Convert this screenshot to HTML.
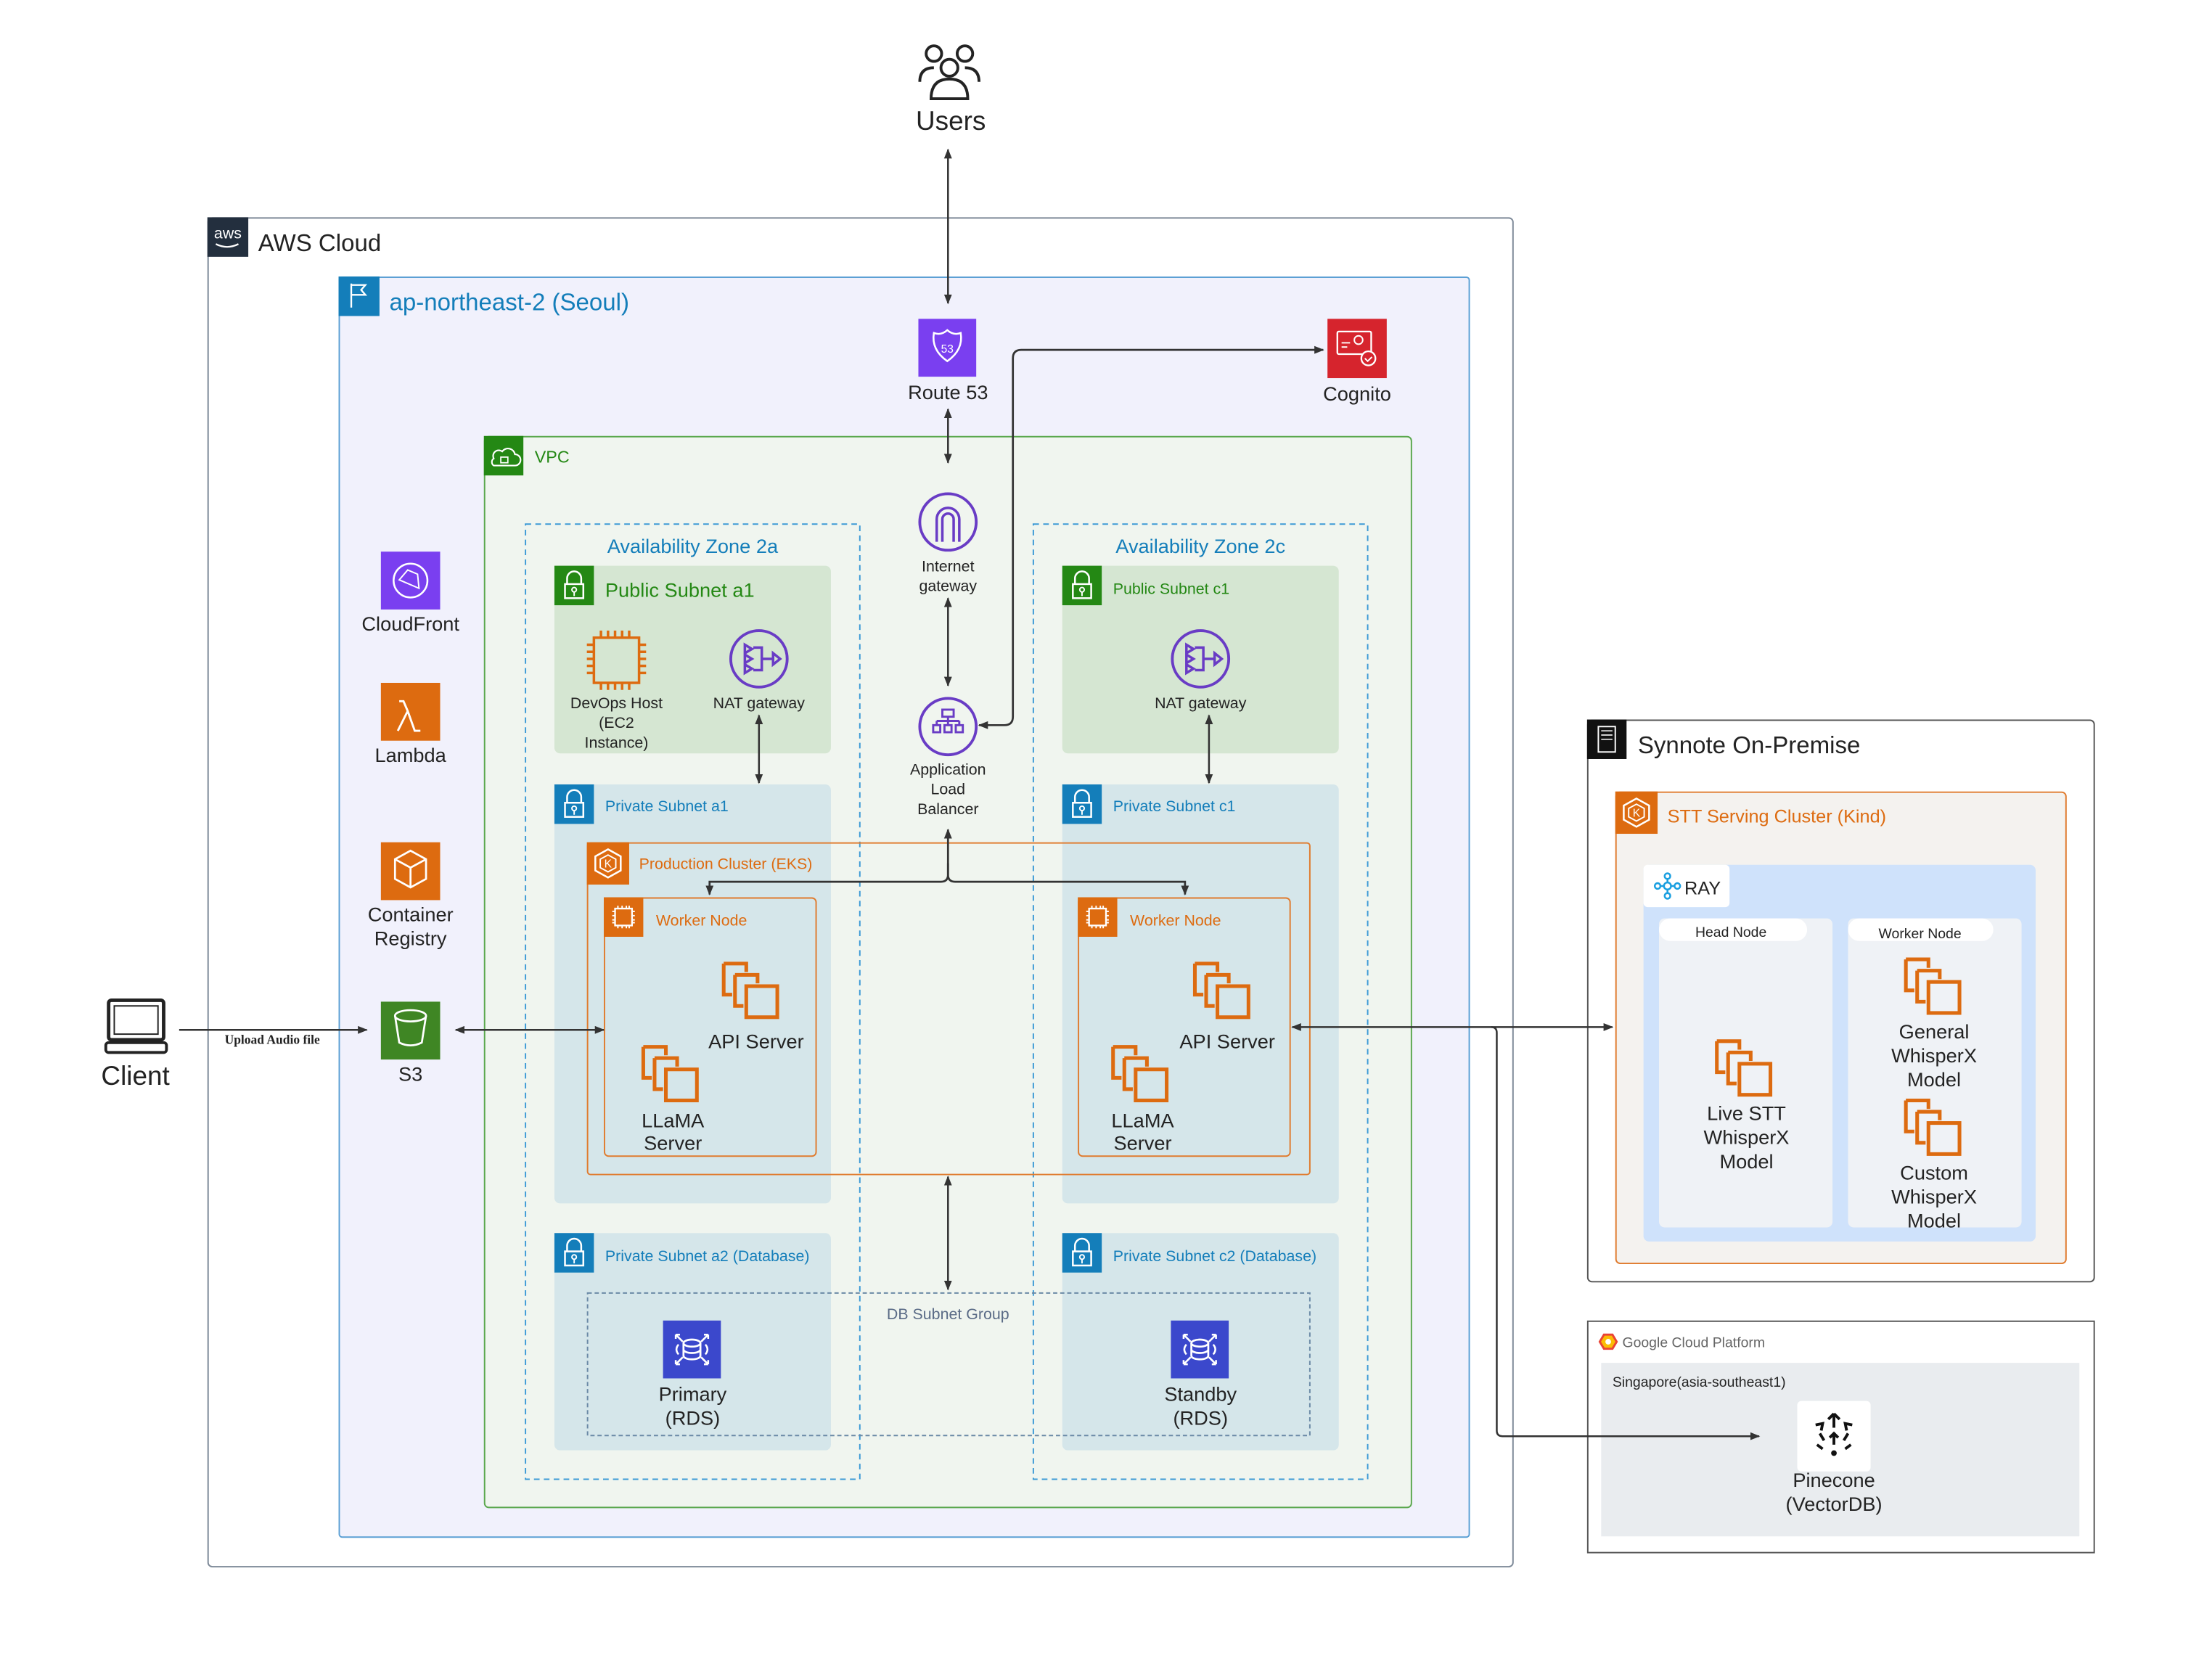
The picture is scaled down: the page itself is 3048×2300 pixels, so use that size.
<!DOCTYPE html>
<html><head><meta charset="utf-8"><style>
html,body{margin:0;padding:0;background:#fff}
svg{display:block}
text{font-family:"Liberation Sans",Arial,sans-serif;fill:#232323}
</style></head><body>
<svg width="3048" height="2300" viewBox="0 0 1568 1183" preserveAspectRatio="none" xmlns="http://www.w3.org/2000/svg">
<defs>
<marker id="ah" viewBox="0 0 10 10" refX="9" refY="5" markerWidth="7" markerHeight="7" orient="auto-start-reverse" markerUnits="userSpaceOnUse"><path d="M0,1 L10,5 L0,9 z" fill="#333"/></marker>
<g id="multi" fill="none" stroke="#dd6b10" stroke-width="2.6">
<path d="M0,0 h16 v6 M0,0 v22 h6"/><path d="M8,8 h16 v6 M8,8 v22 h6"/><rect x="16" y="16" width="22" height="22"/>
</g>
<g id="lock"><rect width="28" height="28" fill="currentColor"/><path d="M9,13 v-4 a5,5 0 0 1 10,0 v4" fill="none" stroke="#fff" stroke-width="1.3"/><rect x="7.5" y="13" width="13" height="10" fill="none" stroke="#fff" stroke-width="1.3"/><circle cx="14" cy="17" r="1.6" fill="none" stroke="#fff"/><path d="M14,18.5 v3" stroke="#fff"/></g>
<g id="nat"><circle r="20" fill="none" stroke="#693cc5" stroke-width="2"/><path d="M-10,-10 l5,3 l-5,3 z M-10,-3 l5,3 l-5,3z M-10,4 l5,3 l-5,3z M-4,-8 h6 v16 h-6 M2,0 h8 M10,-4 l5,4 l-5,4 z" fill="none" stroke="#693cc5" stroke-width="1.8"/></g>
<g id="chip"><rect width="28" height="28" fill="#dd6b10"/><rect x="8" y="8" width="12" height="12" fill="none" stroke="#fff" stroke-width="1.2"/><path d="M10,6v2M13,6v2M16,6v2M18,6v2M10,20v2M13,20v2M16,20v2M18,20v2M6,10h2M6,13h2M6,16h2M6,18h2M20,10h2M20,13h2M20,16h2M20,18h2" stroke="#fff"/></g>
<g id="k8s"><rect width="30" height="30" fill="#dd6b10"/><path d="M15,5 l9,5 v10 l-9,5 l-9,-5 v-10 z" fill="none" stroke="#fff" stroke-width="1.3"/><path d="M15,9 l5.5,3 v6 l-5.5,3 l-5.5,-3 v-6 z" fill="none" stroke="#fff"/><text x="15" y="18" font-size="8" text-anchor="middle" style="fill:#fff">K</text></g>
<g id="rds"><rect width="41" height="41" fill="#3b48cc"/><ellipse cx="20.5" cy="16" rx="6" ry="2.5" fill="none" stroke="#fff" stroke-width="1.4"/><path d="M14.5,16 v9 a6,2.5 0 0 0 12,0 v-9 M14.5,20.5 a6,2.5 0 0 0 12,0" fill="none" stroke="#fff" stroke-width="1.4"/><path d="M9,10 l5,5 M9,10 h3 M9,10 v3 M32,10 l-5,5 M32,10 h-3 M32,10 v3 M9,31 l5,-5 M9,31 h3 M9,31 v-3 M32,31 l-5,-5 M32,31 h-3 M32,31 v-3 M11,17 q-3,3.5 0,7 M30,17 q3,3.5 0,7" fill="none" stroke="#fff" stroke-width="1.3"/></g>
</defs>

<!-- Users -->
<g fill="none" stroke="#232323" stroke-width="2">
<circle cx="662" cy="38" r="5.5"/><circle cx="684" cy="38" r="5.5"/><circle cx="673" cy="48" r="6"/>
<path d="M652,58 q0,-10 10,-10 M694,58 q0,-10 -10,-10 M660,70 q0,-14 13,-14 q13,0 13,14 z"/>
</g>
<text x="674" y="92" font-size="19" text-anchor="middle">Users</text>

<!-- AWS Cloud -->
<rect x="147.5" y="154.5" width="925" height="956" rx="3" fill="#fff" stroke="#7d8998" stroke-width="1"/>
<rect x="147" y="154" width="29" height="28" fill="#232f3e"/>
<text x="161.5" y="169" font-size="11" text-anchor="middle" style="fill:#fff">aws</text>
<path d="M153,173 q8,4 16,0" fill="none" stroke="#fff" stroke-width="1.2"/>
<text x="183" y="178" font-size="17">AWS Cloud</text>

<!-- Region -->
<rect x="240.5" y="196.5" width="801" height="893" rx="2" fill="#f1f1fc" stroke="#5a9fd4" stroke-width="1"/>
<rect x="240" y="196" width="29" height="28" fill="#147eba"/>
<path d="M249,218 v-17 M249,202 h10 l-3,3.5 l3,3.5 h-10" fill="none" stroke="#fff" stroke-width="1.2"/>
<text x="276" y="220" font-size="17" style="fill:#147eba">ap-northeast-2 (Seoul)</text>

<!-- Route53 -->
<rect x="651" y="226" width="41" height="41" fill="#7a3ff0"/>
<path d="M662,236 q5,2 9.5,-2 q4.5,4 9.5,2 q2,12 -9.5,20 q-11.5,-8 -9.5,-20z" fill="none" stroke="#fff" stroke-width="1.3"/>
<text x="671.5" y="250" font-size="8" text-anchor="middle" style="fill:#fff">53</text>
<text x="672" y="283" font-size="14" text-anchor="middle">Route 53</text>

<!-- Cognito -->
<rect x="941" y="226" width="42" height="42" fill="#d6242d"/>
<rect x="948" y="235" width="24" height="16" rx="1" fill="none" stroke="#fff" stroke-width="1.2"/>
<path d="M951,243 h6 M951,246 h4" stroke="#fff"/>
<circle cx="963" cy="241" r="3" fill="none" stroke="#fff"/>
<circle cx="970" cy="254" r="5" fill="#d6242d" stroke="#fff" stroke-width="1.2"/>
<path d="M967.5,254 l2,2 l3,-3" fill="none" stroke="#fff"/>
<text x="962" y="284" font-size="14" text-anchor="middle">Cognito</text>

<!-- VPC -->
<rect x="343.5" y="309.5" width="657" height="759" rx="3" fill="#f0f5ef" stroke="#5aa74d" stroke-width="1"/>
<rect x="343" y="309" width="28" height="28" fill="#248814"/>
<path d="M350,330 h15 a4,4 0 0 0 0,-8 a5,5 0 0 0 -9,-2 a4,4 0 0 0 -6,5 a3,3 0 0 0 0,5z" fill="none" stroke="#fff" stroke-width="1.1"/>
<rect x="355" y="324" width="5" height="4" fill="none" stroke="#fff" stroke-width="0.9"/>
<text x="379" y="328" font-size="12" style="fill:#248814">VPC</text>

<!-- AZ boxes -->
<rect x="372.5" y="371.5" width="237" height="677" fill="none" stroke="#3c9ad6" stroke-width="1" stroke-dasharray="4,3"/>
<rect x="732.5" y="371.5" width="237" height="677" fill="none" stroke="#3c9ad6" stroke-width="1" stroke-dasharray="4,3"/>
<text x="491" y="392" font-size="14" text-anchor="middle" style="fill:#147eba">Availability Zone 2a</text>
<text x="851" y="392" font-size="14" text-anchor="middle" style="fill:#147eba">Availability Zone 2c</text>

<!-- Public subnets -->
<rect x="393" y="401" width="196" height="133" rx="4" fill="#d5e6d2"/>
<use href="#lock" x="393" y="401" style="color:#248814"/>
<text x="429" y="423" font-size="14" style="fill:#248814">Public Subnet a1</text>
<rect x="753" y="401" width="196" height="133" rx="4" fill="#d5e6d2"/>
<use href="#lock" x="753" y="401" style="color:#248814"/>
<text x="789" y="421" font-size="11" style="fill:#248814">Public Subnet c1</text>

<!-- EC2 devops -->
<g fill="none" stroke="#dd6b10" stroke-width="1.8">
<rect x="421" y="452" width="32" height="32"/>
<path d="M426,447v5M431,447v5M436,447v5M441,447v5M446,447v5M426,484v5M431,484v5M436,484v5M441,484v5M446,484v5M416,457h5M416,462h5M416,467h5M416,472h5M416,477h5M453,457h5M453,462h5M453,467h5M453,472h5M453,477h5"/>
</g>
<text x="437" y="502" font-size="11" text-anchor="middle">DevOps Host</text>
<text x="437" y="516" font-size="11" text-anchor="middle">(EC2</text>
<text x="437" y="530" font-size="11" text-anchor="middle">Instance)</text>
<use href="#nat" x="538" y="467"/>
<text x="538" y="502" font-size="11" text-anchor="middle">NAT gateway</text>
<use href="#nat" x="851" y="467"/>
<text x="851" y="502" font-size="11" text-anchor="middle">NAT gateway</text>

<!-- Private subnets -->
<rect x="393" y="556" width="196" height="297" rx="4" fill="#d5e6ea"/>
<use href="#lock" x="393" y="556" style="color:#147eba"/>
<text x="429" y="575" font-size="11" style="fill:#147eba">Private Subnet a1</text>
<rect x="753" y="556" width="196" height="297" rx="4" fill="#d5e6ea"/>
<use href="#lock" x="753" y="556" style="color:#147eba"/>
<text x="789" y="575" font-size="11" style="fill:#147eba">Private Subnet c1</text>
<rect x="393" y="874" width="196" height="154" rx="4" fill="#d5e6ea"/>
<use href="#lock" x="393" y="874" style="color:#147eba"/>
<text x="429" y="894" font-size="11" style="fill:#147eba">Private Subnet a2 (Database)</text>
<rect x="753" y="874" width="196" height="154" rx="4" fill="#d5e6ea"/>
<use href="#lock" x="753" y="874" style="color:#147eba"/>
<text x="789" y="894" font-size="11" style="fill:#147eba">Private Subnet c2 (Database)</text>

<!-- IGW / ALB -->
<circle cx="672" cy="370" r="20" fill="none" stroke="#693cc5" stroke-width="2"/>
<path d="M664,384 v-16 a8,8 0 0 1 16,0 v16 M668,384 v-16 a4,4 0 0 1 8,0 v16" fill="none" stroke="#693cc5" stroke-width="1.8"/>
<text x="672" y="405" font-size="11" text-anchor="middle">Internet</text>
<text x="672" y="419" font-size="11" text-anchor="middle">gateway</text>
<circle cx="672" cy="515" r="20" fill="none" stroke="#693cc5" stroke-width="2"/>
<path d="M668,503 h8 v5 h-8z M672,508 v3 M664,511 h16 M664,511 v3 M672,511 v3 M680,511 v3 M661.5,514 h5 v5 h-5z M669.5,514 h5 v5 h-5z M677.5,514 h5 v5 h-5z" fill="none" stroke="#693cc5" stroke-width="1.5"/>
<text x="672" y="549" font-size="11" text-anchor="middle">Application</text>
<text x="672" y="563" font-size="11" text-anchor="middle">Load</text>
<text x="672" y="577" font-size="11" text-anchor="middle">Balancer</text>

<!-- EKS -->
<rect x="416.5" y="597.5" width="512" height="235" rx="2" fill="none" stroke="#e07b2e" stroke-width="1"/>
<use href="#k8s" x="416" y="597"/>
<text x="453" y="616" font-size="11" style="fill:#dd6b10">Production Cluster (EKS)</text>

<!-- Worker nodes -->
<rect x="428.5" y="636.5" width="150" height="183" rx="3" fill="none" stroke="#e07b2e" stroke-width="1"/>
<use href="#chip" x="428" y="636"/>
<text x="465" y="656" font-size="11" style="fill:#dd6b10">Worker Node</text>
<use href="#multi" x="513" y="683"/>
<text x="536" y="743" font-size="14" text-anchor="middle">API Server</text>
<use href="#multi" x="456" y="742"/>
<text x="477" y="799" font-size="14" text-anchor="middle">LLaMA</text>
<text x="477" y="815" font-size="14" text-anchor="middle">Server</text>

<rect x="764.5" y="636.5" width="150" height="183" rx="3" fill="none" stroke="#e07b2e" stroke-width="1"/>
<use href="#chip" x="764" y="636"/>
<text x="801" y="656" font-size="11" style="fill:#dd6b10">Worker Node</text>
<use href="#multi" x="847" y="683"/>
<text x="870" y="743" font-size="14" text-anchor="middle">API Server</text>
<use href="#multi" x="789" y="742"/>
<text x="810" y="799" font-size="14" text-anchor="middle">LLaMA</text>
<text x="810" y="815" font-size="14" text-anchor="middle">Server</text>

<!-- DB subnet group -->
<rect x="416.5" y="916.5" width="512" height="101" fill="none" stroke="#6b8aa6" stroke-width="1" stroke-dasharray="3,2"/>
<text x="672" y="935" font-size="11" text-anchor="middle" style="fill:#5a6b86">DB Subnet Group</text>
<use href="#rds" x="470" y="936"/>
<text x="491" y="993" font-size="14" text-anchor="middle">Primary</text>
<text x="491" y="1010" font-size="14" text-anchor="middle">(RDS)</text>
<use href="#rds" x="830" y="936"/>
<text x="851" y="993" font-size="14" text-anchor="middle">Standby</text>
<text x="851" y="1010" font-size="14" text-anchor="middle">(RDS)</text>

<!-- Left services -->
<rect x="270" y="391" width="42" height="41" fill="#7a3ff0"/>
<circle cx="291" cy="411.5" r="12" fill="none" stroke="#fff" stroke-width="1.3"/>
<path d="M283,411 l6,-7 l7,3 l1,10 z" fill="none" stroke="#fff" stroke-width="1"/>
<text x="291" y="447" font-size="14" text-anchor="middle">CloudFront</text>
<rect x="270" y="484" width="42" height="41" fill="#dd6b10"/>
<path d="M282,518 l7,-14 l-3,-7 h-3 M289,504 l5,14 h4" fill="none" stroke="#fff" stroke-width="1.5"/>
<text x="291" y="540" font-size="14" text-anchor="middle">Lambda</text>
<rect x="270" y="597" width="42" height="41" fill="#dd6b10"/>
<path d="M291,603 l11,6 v14 l-11,6 l-11,-6 v-14 z M280,609 l11,6 l11,-6 M291,615 v14" fill="none" stroke="#fff" stroke-width="1.4"/>
<text x="291" y="653" font-size="14" text-anchor="middle">Container</text>
<text x="291" y="670" font-size="14" text-anchor="middle">Registry</text>
<rect x="270" y="710" width="42" height="41" fill="#3f8624"/>
<ellipse cx="291" cy="720" rx="11" ry="4" fill="none" stroke="#fff" stroke-width="1.4"/>
<path d="M280,720 l3,19 q8,4 16,0 l3,-19" fill="none" stroke="#fff" stroke-width="1.4"/>
<text x="291" y="766" font-size="14" text-anchor="middle">S3</text>

<!-- Client -->
<rect x="77" y="709" width="39" height="28" rx="2" fill="none" stroke="#232323" stroke-width="2.5"/>
<rect x="81" y="713" width="31" height="20" fill="none" stroke="#232323" stroke-width="1"/>
<rect x="75" y="739" width="43" height="7" rx="2" fill="none" stroke="#232323" stroke-width="2"/>
<text x="96" y="769" font-size="19" text-anchor="middle">Client</text>
<text x="193" y="740" font-size="9" font-weight="bold" text-anchor="middle" style="font-family:'Liberation Serif',serif">Upload Audio file</text>

<!-- Synnote -->
<rect x="1125.5" y="510.5" width="359" height="398" rx="3" fill="#fff" stroke="#555" stroke-width="1"/>
<rect x="1125" y="510" width="28" height="28" fill="#111"/>
<rect x="1133" y="515" width="12" height="18" fill="none" stroke="#fff" stroke-width="1"/>
<path d="M1135,518h8M1135,521h8M1135,524h8" stroke="#fff" stroke-width="0.8"/>
<text x="1161" y="534" font-size="17">Synnote On-Premise</text>
<rect x="1145.5" y="561.5" width="319" height="334" rx="3" fill="#f4f2ef" stroke="#e07b2e" stroke-width="1"/>
<use href="#k8s" x="1145" y="561"/>
<text x="1182" y="583" font-size="13" style="fill:#dd6b10">STT Serving Cluster (Kind)</text>
<rect x="1165" y="613" width="278" height="267" rx="4" fill="#cfe2fb"/>
<rect x="1165" y="613" width="61" height="30" rx="3" fill="#fff"/>
<g fill="none" stroke="#1a9fe0" stroke-width="1.3"><circle cx="1175" cy="628" r="2"/><circle cx="1182" cy="628" r="2.5"/><circle cx="1182" cy="621" r="2"/><circle cx="1182" cy="635" r="2"/><circle cx="1189" cy="628" r="2"/><path d="M1177,628h2.5M1184.5,628h2.5M1182,623v2.5M1182,630.5v2.5"/></g>
<text x="1194" y="634" font-size="13">RAY</text>
<rect x="1176" y="651" width="123" height="219" rx="4" fill="#eff2f6"/>
<rect x="1176" y="651" width="105" height="16" rx="8" fill="#fff"/>
<text x="1227" y="664" font-size="10" text-anchor="middle">Head Node</text>
<rect x="1310" y="651" width="123" height="219" rx="4" fill="#eff2f6"/>
<rect x="1310" y="651" width="103" height="16" rx="8" fill="#fff"/>
<text x="1361" y="665" font-size="10" text-anchor="middle">Worker Node</text>
<use href="#multi" x="1217" y="738"/>
<text x="1238" y="794" font-size="14" text-anchor="middle">Live STT</text>
<text x="1238" y="811" font-size="14" text-anchor="middle">WhisperX</text>
<text x="1238" y="828" font-size="14" text-anchor="middle">Model</text>
<use href="#multi" x="1351" y="680"/>
<text x="1371" y="736" font-size="14" text-anchor="middle">General</text>
<text x="1371" y="753" font-size="14" text-anchor="middle">WhisperX</text>
<text x="1371" y="770" font-size="14" text-anchor="middle">Model</text>
<use href="#multi" x="1351" y="780"/>
<text x="1371" y="836" font-size="14" text-anchor="middle">Custom</text>
<text x="1371" y="853" font-size="14" text-anchor="middle">WhisperX</text>
<text x="1371" y="870" font-size="14" text-anchor="middle">Model</text>

<!-- GCP -->
<rect x="1125.5" y="936.5" width="359" height="164" fill="#fff" stroke="#555" stroke-width="1"/>
<path d="M1134,951 l3,-5 h6 l3,5 l-3,5 h-6z" fill="#fbbc05" stroke="#ea4335" stroke-width="1.5"/>
<circle cx="1140" cy="951" r="2" fill="#fff"/>
<text x="1150" y="955" font-size="10" style="fill:#666">Google Cloud Platform</text>
<rect x="1135" y="966" width="339" height="123" fill="#e9ecef"/>
<text x="1143" y="983" font-size="10">Singapore(asia-southeast1)</text>
<rect x="1274" y="993" width="52" height="50" rx="3" fill="#fff"/>
<g fill="none" stroke="#111" stroke-width="2"><path d="M1300,1002 l-4,4 M1300,1002 l4,4 M1300,1002 v10 M1287,1010 l5,-1 l-1,5 M1313,1010 l-5,-1 l1,5 M1288,1024 l4,3 M1312,1024 l-4,3 M1300,1016 v8 M1297,1019 l3,-3 l3,3 M1290,1016 l3,5 M1310,1016 l-3,5"/></g>
<circle cx="1300" cy="1030" r="2" fill="#111"/>
<text x="1300" y="1054" font-size="14" text-anchor="middle">Pinecone</text>
<text x="1300" y="1071" font-size="14" text-anchor="middle">(VectorDB)</text>

<!-- ===== Connectors (on top) ===== -->
<g fill="none" stroke="#333" stroke-width="1.3">
<line x1="672" y1="106" x2="672" y2="215" marker-start="url(#ah)" marker-end="url(#ah)"/>
<line x1="672" y1="290" x2="672" y2="328" marker-start="url(#ah)" marker-end="url(#ah)"/>
<path d="M694,514 h18 q6,0 6,-6 V254 q0,-6 6,-6 H938" stroke-width="1.4" marker-start="url(#ah)" marker-end="url(#ah)"/>
<line x1="672" y1="424" x2="672" y2="486" marker-start="url(#ah)" marker-end="url(#ah)"/>
<line x1="538" y1="507" x2="538" y2="555" marker-start="url(#ah)" marker-end="url(#ah)"/>
<line x1="857" y1="507" x2="857" y2="555" marker-start="url(#ah)" marker-end="url(#ah)"/>
<path d="M672,588 V620 q0,5 -5,5 H503 V634" stroke-width="1.4" marker-start="url(#ah)" marker-end="url(#ah)"/>
<path d="M672,612 V620 q0,5 5,5 H840 V634" stroke-width="1.4" marker-end="url(#ah)"/>
<line x1="672" y1="834" x2="672" y2="914" marker-start="url(#ah)" marker-end="url(#ah)"/>
<line x1="127" y1="730" x2="260" y2="730" marker-end="url(#ah)"/>
<line x1="323" y1="730" x2="428" y2="730" marker-start="url(#ah)" marker-end="url(#ah)"/>
<line x1="916" y1="728" x2="1143" y2="728" marker-start="url(#ah)" marker-end="url(#ah)"/>
<path d="M1057,728 q4,0 4,4 V1014 q0,4 4,4 H1247" marker-end="url(#ah)"/>
</g>
</svg>
</body></html>
